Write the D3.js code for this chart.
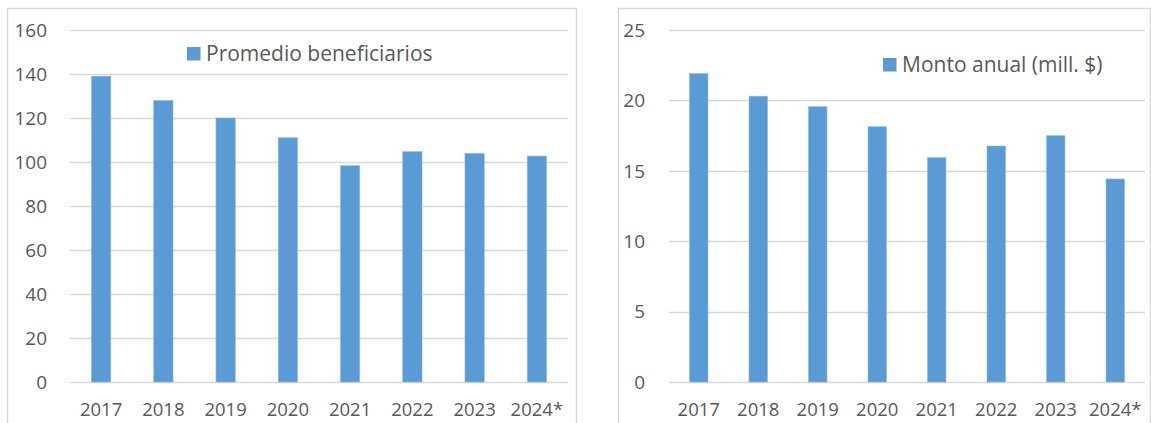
<!DOCTYPE html>
<html><head><meta charset="utf-8">
<script src="https://cdn.jsdelivr.net/npm/d3@7"></script>
<style>body{margin:0;background:#fff}svg{display:block}text{font-family:"Open Sans",Lato,sans-serif;fill:#595959}</style>
</head><body>
<svg id="c" width="1151" height="423"></svg>
<script>
const years = ["2017","2018","2019","2020","2021","2022","2023","2024*"];
const beneficiarios = [139, 128, 120, 111, 98.3, 104.7, 103.9, 102.7];
const monto = [21.9, 20.3, 19.55, 18.13, 15.93, 16.76, 17.49, 14.42];
const ticksLeft = [0,20,40,60,80,100,120,140,160];
const ticksRight = [0,5,10,15,20,25];
const legendLeft = "Promedio beneficiarios";
const legendRight = "Monto anual (mill. $)";

const svg = d3.select("#c");
const FS = 18.5, LFS = 21;

function chart(cfg){
  const g = svg.append("g");
  g.append("rect").attr("x",cfg.frame[0]+0.5).attr("y",cfg.frame[1]+0.5)
    .attr("width",cfg.frame[2]-cfg.frame[0]).attr("height",cfg.frame[3]-cfg.frame[1])
    .attr("fill","#fff").attr("stroke","#d9d9d9").attr("stroke-width",1.5);
  const x = d3.scaleBand().domain(years).range([cfg.x0,cfg.x1]).paddingInner(0.69).paddingOuter(0.345);
  const y = d3.scaleLinear().domain([0,cfg.max]).range([cfg.y0,cfg.y1]);
  g.selectAll(".gl").data(cfg.ticks).join("line")
    .attr("x1",cfg.x0).attr("x2",cfg.x1)
    .attr("y1",d=>Math.round(y(d))+0.5).attr("y2",d=>Math.round(y(d))+0.5)
    .attr("stroke","#d9d9d9").attr("stroke-width",1.5);
  g.selectAll(".yl").data(cfg.ticks).join("text")
    .attr("x",cfg.ylx).attr("y",d=>y(d)).attr("dy","0.36em")
    .attr("text-anchor","end").style("font-size",(FS+0.5)+"px").text(d=>d);
  g.selectAll(".b").data(cfg.values).join("rect")
    .attr("x",(d,i)=>x(years[i])).attr("width",x.bandwidth())
    .attr("y",d=>y(d)).attr("height",d=>cfg.y0-y(d))
    .attr("fill","#5b9bd5").attr("stroke","#8ab8e3").attr("stroke-width",0.6);
  g.selectAll(".xl").data(years).join("text")
    .attr("x",d=>x(d)+x.bandwidth()/2).attr("y",cfg.xly)
    .attr("text-anchor","middle").style("font-size",FS+"px").text(d=>d);
  g.append("rect").attr("x",cfg.leg[0]).attr("y",cfg.leg[1]).attr("width",13.5).attr("height",13.5).attr("fill","#5b9bd5");
  g.append("text").attr("x",cfg.leg[0]+19).attr("y",cfg.leg[1]+6.8).attr("dy","0.36em")
    .style("font-size",LFS+"px").text(cfg.legend);
}

chart({frame:[7,8,576,440], x0:70, x1:568, y0:382, y1:30, max:160, ticks:ticksLeft,
  values:beneficiarios, ylx:47, xly:416, leg:[187,47], legend:legendLeft});
chart({frame:[618,8,1150,440], x0:669, x1:1145, y0:382, y1:30, max:25, ticks:ticksRight,
  values:monto, ylx:645, xly:416, leg:[883,58], legend:legendRight});
</script>
</body></html>
